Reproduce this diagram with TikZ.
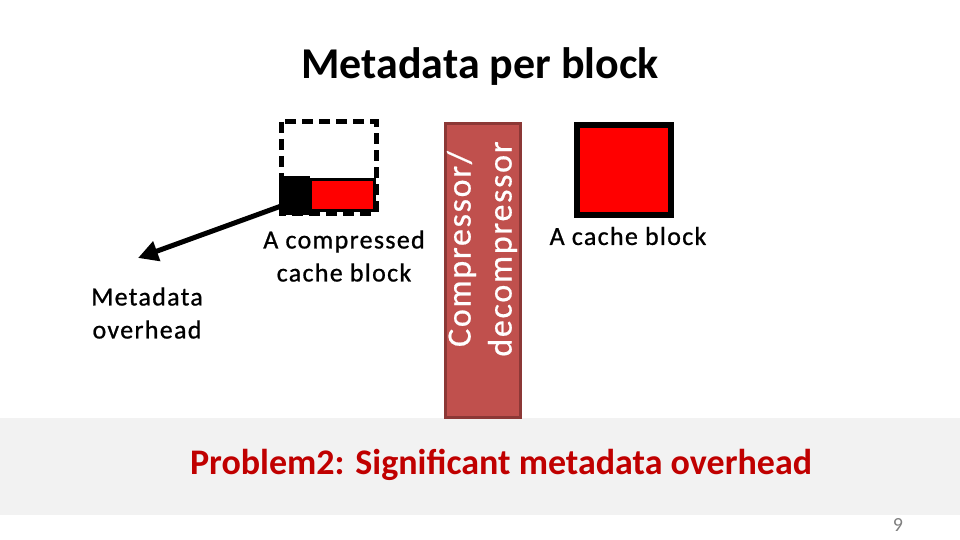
\documentclass[tikz,border=0pt]{standalone}
\usepackage{fontspec}
\setmainfont{Carlito}
\newfontfamily\widefont[LetterSpace=5,FakeBold=0.8]{Carlito}
\newfontfamily\compfont[LetterSpace=5,FakeBold=0.6]{Carlito}
\usetikzlibrary{arrows.meta}
\definecolor{bandgray}{HTML}{F2F2F2}
\definecolor{probred}{HTML}{C00000}
\definecolor{compfill}{HTML}{C0504D}
\definecolor{compdraw}{HTML}{8C3836}
\definecolor{pure}{HTML}{FF0000}
\definecolor{pagegray}{HTML}{7F7F7F}
\tikzset{
  lbl/.style={font=\widefont\fontsize{26}{33}\selectfont, align=center, text=black},
  blockline/.style={line width=5pt},
}
\begin{document}
\begin{tikzpicture}[x=1pt,y=-1pt]
\useasboundingbox (0,0) rectangle (960,540);
\fill[white] (0,0) rectangle (960,540);
% band
\fill[bandgray] (0,418) rectangle (960,515);
% title
\node (title) at (480,67) {\fontsize{44}{52}\selectfont\bfseries Metadata per block};
% compressor
\node[draw=compdraw, fill=compfill, line width=3pt, minimum width=75pt, minimum height=294pt, inner sep=0pt] (comp) at (482.5,270.5) {};
\node[rotate=90, text=white, font=\compfont\fontsize{34}{41}\selectfont, align=center] (comptext) at (482,249) {Compressor/\\decompressor};
% compressed block
\draw[blockline, dashed, dash pattern=on 11pt off 6pt] (281,122) rectangle (376,213);
\fill[black] (279,176) rectangle (310,215);
\draw[black, line width=3pt, fill=pure] (310,180) rectangle (374,210);
\coordinate (meta) at (284,205);
% cache block
\draw[black, line width=6pt, fill=pure] (577,125) rectangle (671,215);
% arrow
\node[lbl] (mo) at (147,313) {Metadata\\overhead};
\coordinate (tip) at (138,258);
\draw[line width=5pt, -{Triangle[length=20pt,width=20pt]}] (meta) -- (tip);
\node[lbl] (cb) at (344,256) {A compressed\\cache block};
\node[lbl] (ab) at (628,236) {A cache block};
% problem
\node[text=probred, font=\fontsize{36}{42}\selectfont\bfseries] (prob) at (501,465) {Problem2: Significant metadata overhead};
\node[text=pagegray, font=\fontsize{20}{22}\selectfont] (pg) at (898,525) {9};
\end{tikzpicture}
\end{document}
